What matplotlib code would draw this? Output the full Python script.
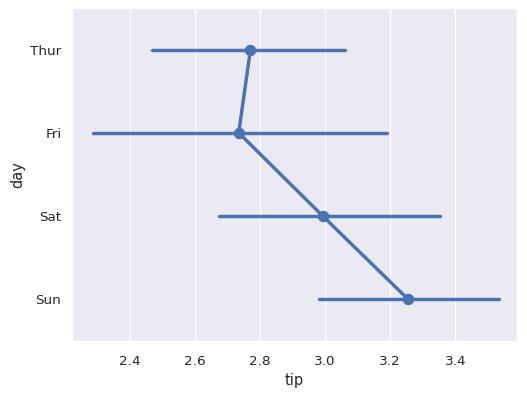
import matplotlib
matplotlib.use("Agg")
import matplotlib.pyplot as plt
import seaborn as sns

sns.set_theme(style="darkgrid", font_scale=1.07)

days = ["Thur", "Fri", "Sat", "Sun"]
tip_mean = [2.771, 2.735, 2.993, 3.255]
ci_low = [2.469, 2.288, 2.675, 2.982]
ci_high = [3.062, 3.190, 3.353, 3.534]

color = sns.color_palette()[0]

fig = plt.figure(figsize=(527 / 82.4, 396 / 82.4), dpi=82.4)
ax = fig.add_axes([0.137, 0.139, 0.844, 0.841])

ypos = list(range(len(days)))

# error bars
for y, lo, hi in zip(ypos, ci_low, ci_high):
    ax.plot([lo, hi], [y, y], color=color, lw=3, solid_capstyle="round")

# means
ax.plot(tip_mean, ypos, color=color, lw=3, marker="o", markersize=9)

ax.set_yticks(ypos)
ax.set_yticklabels(days)
ax.set_ylim(3.5, -0.5)
ax.set_xlim(2.224, 3.589)
ax.set_xticks([2.4, 2.6, 2.8, 3.0, 3.2, 3.4])
ax.tick_params(axis="x", pad=6)
ax.grid(axis="y", visible=False)
ax.set_xlabel("tip", labelpad=5)
ax.set_ylabel("day")

fig.savefig("out.png", dpi=82.4)
